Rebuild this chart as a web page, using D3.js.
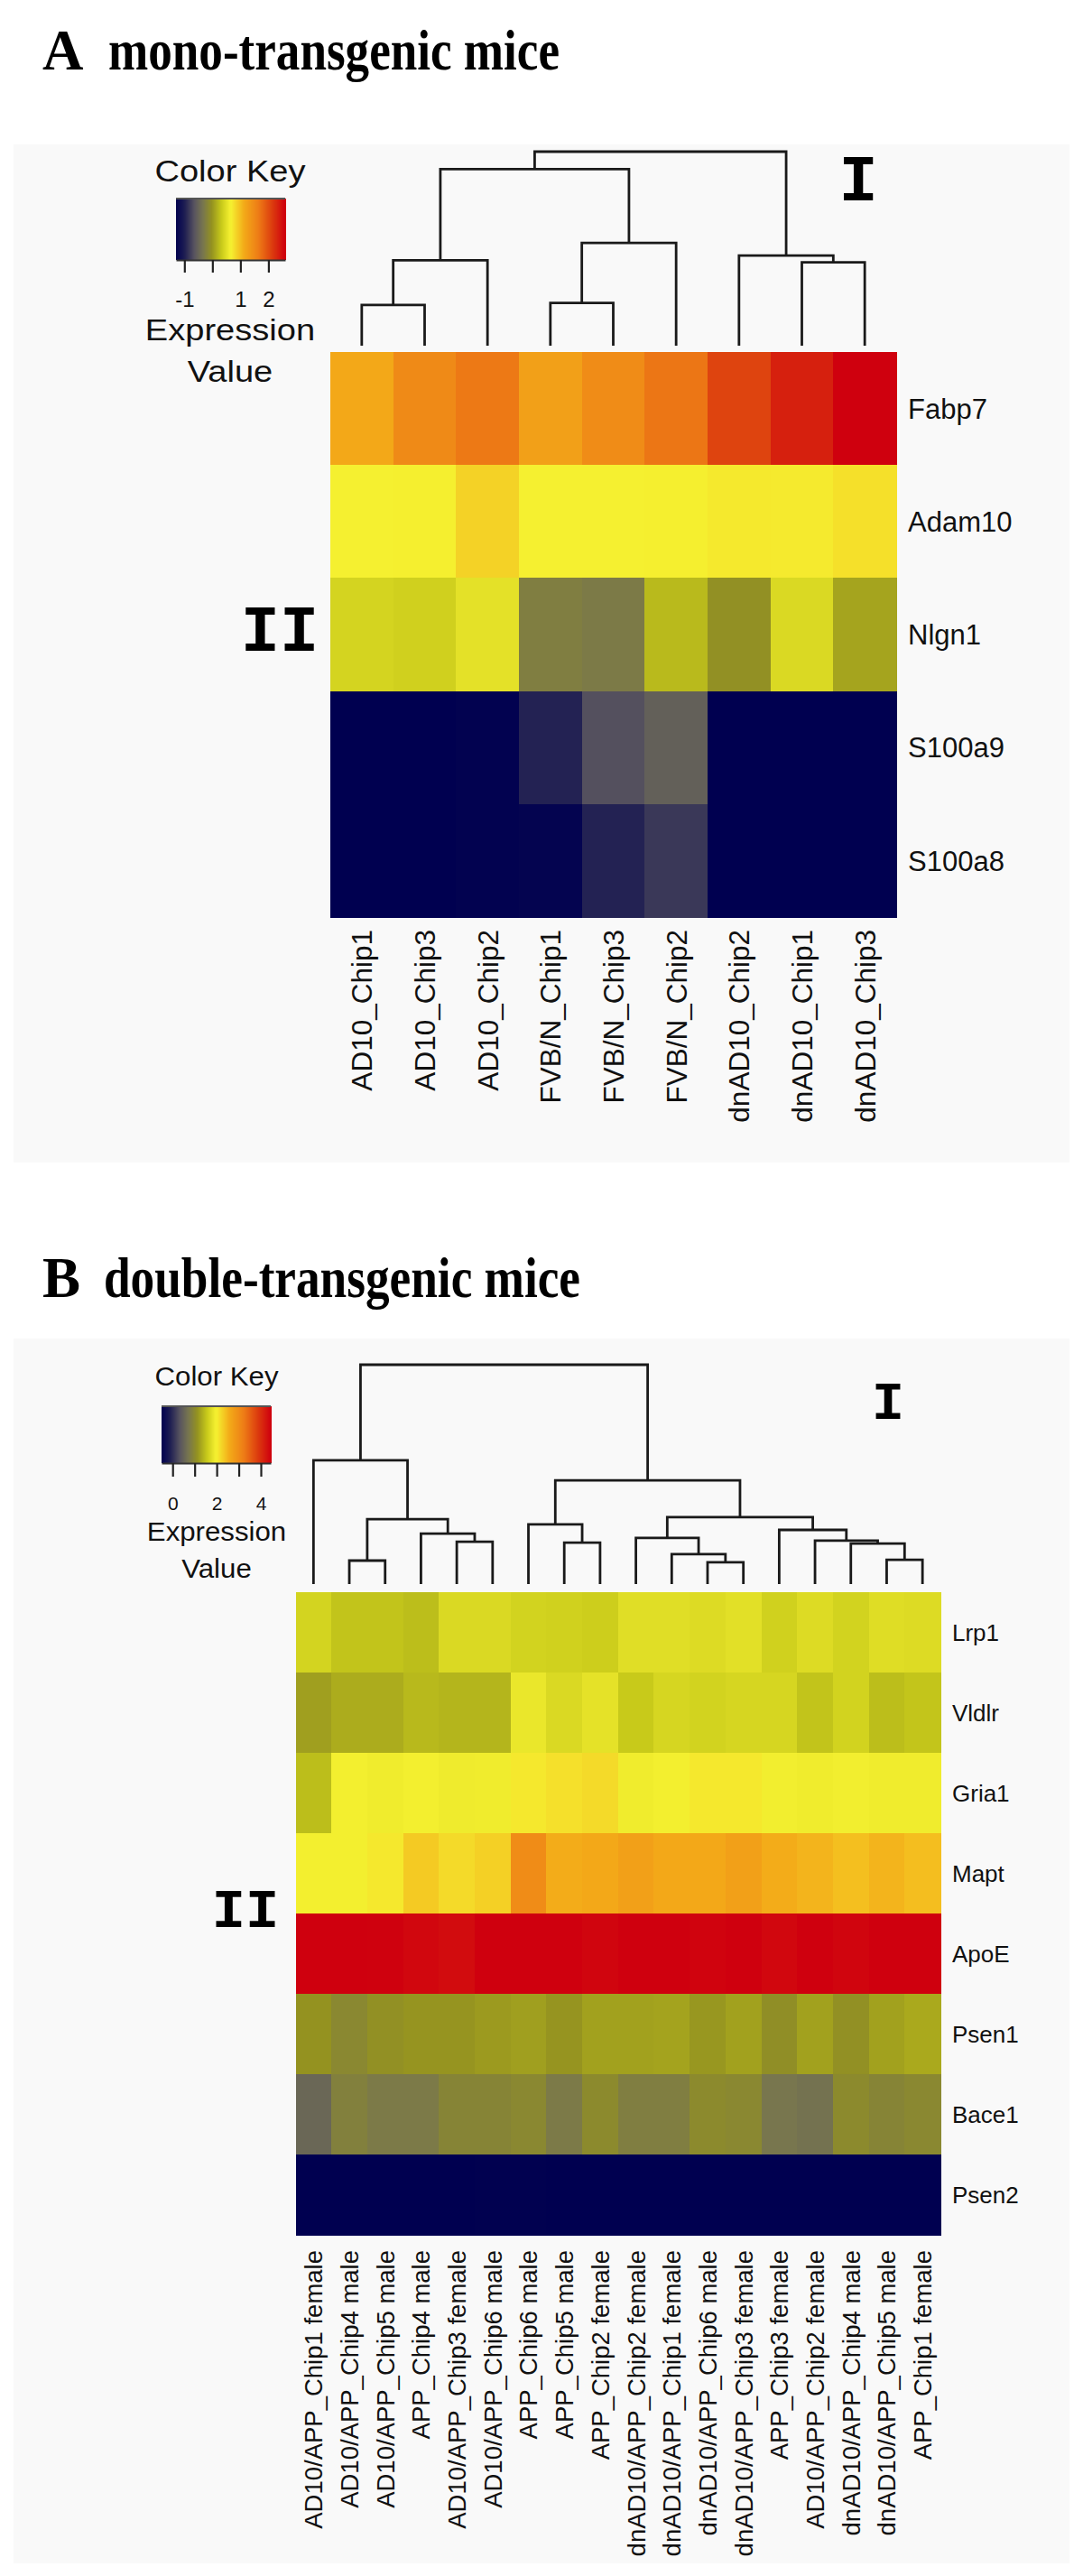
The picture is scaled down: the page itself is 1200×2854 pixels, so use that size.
<!DOCTYPE html>
<html>
<head>
<meta charset="utf-8">
<script src="https://cdn.jsdelivr.net/npm/d3@7"></script>
<style>
  body { margin: 0; background: #fff; }
  svg { display: block; }
  .lab { font-family: "Liberation Sans", Arial, sans-serif; fill: #111; }
</style>
</head>
<body>
<div id="chart"></div>
<script>
// ---- panel A : mono-transgenic mice ----
var colsA = ["AD10_Chip1", "AD10_Chip3", "AD10_Chip2", "FVB/N_Chip1", "FVB/N_Chip3",
             "FVB/N_Chip2", "dnAD10_Chip2", "dnAD10_Chip1", "dnAD10_Chip3"];
var rowsA = ["Fabp7", "Adam10", "Nlgn1", "S100a9", "S100a8"];
var fabp7A  = [1.14, 1.48, 1.66, 1.23, 1.46, 1.68, 2.07, 2.35, 2.60];
var adam10A = [0.65, 0.66, 0.85, 0.65, 0.65, 0.66, 0.70, 0.69, 0.76];
var nlgn1A  = [0.42, 0.39, 0.53, -0.24, -0.28, 0.24, -0.04, 0.46, 0.10];
var s100a9A = [-1.30, -1.30, -1.28, -0.96, -0.66, -0.53, -1.30, -1.30, -1.30];
var s100a8A = [-1.30, -1.30, -1.28, -1.26, -0.96, -0.82, -1.30, -1.30, -1.30];
// column dendrogram: [left, right, height], leaves are column indices
var treeA = [[[[0, 1, 0.21], 2, 0.44], [[3, 4, 0.22], 5, 0.53], 0.91], [6, [7, 8, 0.43], 0.465], 1.0];
var keyRangeA = [-1.3, 2.6];
var keyTicksA = [-1, 0, 1, 2];
var keyLabelsA = ["-1", "", "1", "2"];

// ---- panel B : double-transgenic mice ----
var colsB = ["AD10/APP_Chip1 female", "AD10/APP_Chip4 male", "AD10/APP_Chip5 male", "APP_Chip4 male",
             "AD10/APP_Chip3 female", "AD10/APP_Chip6 male", "APP_Chip6 male", "APP_Chip5 male",
             "APP_Chip2 female", "dnAD10/APP_Chip2 female", "dnAD10/APP_Chip1 female",
             "dnAD10/APP_Chip6 male", "dnAD10/APP_Chip3 female", "APP_Chip3 female",
             "AD10/APP_Chip2 female", "dnAD10/APP_Chip4 male", "dnAD10/APP_Chip5 male", "APP_Chip1 female"];
var rowsB = ["Lrp1", "Vldlr", "Gria1", "Mapt", "ApoE", "Psen1", "Bace1", "Psen2"];
var lrp1B  = [1.68, 1.53, 1.53, 1.48, 1.74, 1.74, 1.67, 1.65, 1.62, 1.79, 1.79, 1.76, 1.81, 1.65, 1.76, 1.67, 1.78, 1.76];
var vldlrB = [1.24, 1.34, 1.34, 1.44, 1.41, 1.41, 1.88, 1.74, 1.83, 1.58, 1.70, 1.67, 1.70, 1.70, 1.53, 1.67, 1.48, 1.54];
var gria1B = [1.48, 1.96, 1.93, 1.96, 1.92, 1.93, 2.04, 2.11, 2.16, 1.93, 1.96, 2.04, 2.04, 1.95, 1.93, 1.95, 1.93, 1.93];
var maptB  = [1.96, 1.96, 2.04, 2.30, 2.16, 2.25, 3.00, 2.55, 2.60, 2.71, 2.60, 2.60, 2.71, 2.55, 2.48, 2.39, 2.48, 2.40];
var apoeB  = [4.45, 4.45, 4.44, 4.38, 4.33, 4.45, 4.45, 4.45, 4.40, 4.45, 4.45, 4.42, 4.45, 4.38, 4.45, 4.40, 4.45, 4.45];
var psen1B = [1.13, 0.99, 1.10, 1.15, 1.15, 1.20, 1.24, 1.15, 1.25, 1.25, 1.27, 1.17, 1.25, 1.08, 1.25, 1.10, 1.25, 1.32];
var bace1B = [0.56, 0.88, 0.79, 0.79, 0.94, 0.94, 0.99, 0.79, 1.02, 0.85, 0.85, 1.02, 0.99, 0.74, 0.69, 1.02, 0.94, 0.99];
var psen2B = [-0.50, -0.50, -0.50, -0.50, -0.50, -0.49, -0.49, -0.50, -0.50, -0.50, -0.50, -0.50, -0.50, -0.50, -0.50, -0.50, -0.50, -0.50];
var treeB = [
  [0, [[1, 2, 0.107], [3, [4, 5, 0.193], 0.230], 0.296], 0.564],
  [[6, [7, 8, 0.189], 0.272],
   [[9, [10, [11, 12, 0.099], 0.136], 0.210], [13, [14, [15, [16, 17, 0.111], 0.185], 0.198], 0.247], 0.305],
   0.473],
  1.0];
var keyRangeB = [-0.5, 4.45];
var keyTicksB = [0, 1, 2, 3, 4];
var keyLabelsB = ["0", "", "2", "", "4"];

// colour ramp navy -> yellow -> red, stops given as fractions of the key range
var rampStops  = [0, 0.08, 0.17, 0.25, 0.33, 0.42, 0.5, 0.62, 0.75, 0.88, 1];
var rampColors = ["#000050", "#1e1e52", "#58545f", "#78764e", "#949220", "#c8ca1a",
                  "#f5f030", "#f3aa18", "#ee7d16", "#dc3c0e", "#cf000e"];

var svg = d3.select("#chart").append("svg")
    .attr("width", 1200)
    .attr("height", 2854);

function drawPanel(p) {
    var g = svg.append("g");
    var lo = p.keyRange[0], hi = p.keyRange[1];

    g.append("rect")
        .attr("x", 15).attr("y", p.bgTop)
        .attr("width", 1170).attr("height", p.bgBottom - p.bgTop)
        .attr("fill", "#f9f9f9");

    // panel title
    g.append("text")
        .attr("x", 47).attr("y", p.titleY)
        .attr("font-family", "'Liberation Serif', 'Times New Roman', serif")
        .attr("font-weight", "bold").attr("font-size", 63)
        .text(p.letter);
    g.append("text")
        .attr("x", p.titleX).attr("y", p.titleY)
        .attr("font-family", "'Liberation Serif', 'Times New Roman', serif")
        .attr("font-weight", "bold").attr("font-size", 63)
        .attr("textLength", p.titleLen).attr("lengthAdjust", "spacingAndGlyphs")
        .text(p.title);

    var x = d3.scaleBand().domain(p.cols).range(p.hmX);
    var y = d3.scaleBand().domain(p.rows).range(p.hmY);
    var color = d3.scaleLinear()
        .domain(rampStops.map(f => lo + f * (hi - lo)))
        .range(rampColors)
        .interpolate(d3.interpolateRgb)
        .clamp(true);

    // heatmap cells
    var cells = [];
    p.values.forEach(function(row, i) {
        row.forEach(function(v, j) {
            cells.push({r: p.rows[i], c: p.cols[j], v: v});
        });
    });
    g.append("g").attr("shape-rendering", "crispEdges")
        .selectAll("rect").data(cells).join("rect")
        .attr("x", d => x(d.c))
        .attr("y", d => y(d.r))
        .attr("width", x.bandwidth() + 0.6)
        .attr("height", y.bandwidth() + 0.6)
        .attr("fill", d => color(d.v));

    // row labels
    g.append("g").selectAll("text").data(p.rows).join("text")
        .attr("class", "lab")
        .attr("x", p.hmX[1] + p.rowPad)
        .attr("y", d => y(d) + y.bandwidth() / 2)
        .attr("dy", "0.36em")
        .attr("font-size", p.labSize)
        .text(d => d);

    // column labels
    g.append("g").selectAll("text").data(p.cols).join("text")
        .attr("class", "lab")
        .attr("transform", d => `translate(${x(d) + x.bandwidth() / 2},${p.colLabY}) rotate(-90)`)
        .attr("dy", "0.36em")
        .attr("text-anchor", "end")
        .attr("font-size", p.colLabSize)
        .text(d => d);

    // column dendrogram
    var h = d3.scaleLinear().domain([0, 1]).range(p.treeY);
    var segs = [];
    function walk(node) {
        if (typeof node === "number") {
            return {x: x(p.cols[node]) + x.bandwidth() / 2, h: 0};
        }
        var a = walk(node[0]), b = walk(node[1]);
        segs.push([[a.x, h(a.h)], [a.x, h(node[2])], [b.x, h(node[2])], [b.x, h(b.h)]]);
        return {x: (a.x + b.x) / 2, h: node[2]};
    }
    walk(p.tree);
    g.append("g").selectAll("path").data(segs).join("path")
        .attr("d", d3.line())
        .attr("fill", "none")
        .attr("stroke", "#1a1a1a")
        .attr("stroke-width", 2.8);

    // colour key
    var kx = d3.scaleLinear().domain(p.keyRange).range(p.keyX);
    var n = 120, step = (hi - lo) / n;
    g.append("g").attr("shape-rendering", "crispEdges")
        .selectAll("rect").data(d3.range(n).map(i => lo + i * step)).join("rect")
        .attr("x", d => kx(d))
        .attr("y", p.keyY[0])
        .attr("width", kx(lo + step) - kx(lo) + 0.6)
        .attr("height", p.keyY[1] - p.keyY[0])
        .attr("fill", d => color(d + step / 2));
    g.append("line")
        .attr("x1", p.keyX[0]).attr("x2", p.keyX[1])
        .attr("y1", p.keyY[0]).attr("y2", p.keyY[0])
        .attr("stroke", "#555").attr("stroke-width", 2);

    var ax = g.append("g")
        .attr("transform", `translate(0,${p.keyY[1]})`)
        .call(d3.axisBottom(kx)
            .tickValues(p.keyTicks)
            .tickSize(p.keyTick)
            .tickSizeOuter(0)
            .tickPadding(p.keyPad)
            .tickFormat((d, i) => p.keyLabels[i]));
    ax.select(".domain").attr("stroke", "#333").attr("stroke-width", 2);
    ax.selectAll(".tick line").attr("stroke", "#222").attr("stroke-width", 2.2);
    ax.selectAll("text")
        .attr("font-family", "'Liberation Sans', Arial, sans-serif")
        .attr("font-size", p.keyFont)
        .attr("fill", "#111");

    [["Color Key", p.keyTextY[0]], ["Expression", p.keyTextY[1]], ["Value", p.keyTextY[2]]]
        .forEach(function(t) {
            g.append("text")
                .attr("class", "lab")
                .attr("transform", `translate(${p.keyCx},${t[1]}) scale(${p.keySx},1)`)
                .attr("text-anchor", "middle")
                .attr("font-size", p.keyTextSize)
                .text(t[0]);
        });

    // cluster markers I / II
    p.marks.forEach(function(m) {
        g.append("text")
            .attr("x", m.x).attr("y", m.y)
            .attr("text-anchor", "middle")
            .attr("font-family", "'Liberation Mono', 'Courier New', monospace")
            .attr("font-weight", "bold")
            .attr("font-size", m.size)
            .text(m.t);
    });
}

drawPanel({
    letter: "A", title: "mono-transgenic mice", titleX: 120, titleY: 77, titleLen: 500,
    bgTop: 160, bgBottom: 1288,
    cols: colsA, rows: rowsA,
    values: [fabp7A, adam10A, nlgn1A, s100a9A, s100a8A],
    tree: treeA, treeY: [383, 168],
    hmX: [366, 993], hmY: [390, 1016],
    rowPad: 13, colLabY: 1030, labSize: 31, colLabSize: 31.5,
    keyRange: keyRangeA, keyTicks: keyTicksA, keyLabels: keyLabelsA,
    keyX: [195, 316], keyY: [220, 288], keyTick: 14, keyPad: 21, keyFont: 24,
    keyCx: 255, keyTextY: [201, 377, 423], keyTextSize: 34, keySx: 1.12,
    marks: [{t: "I", x: 951, y: 222, size: 72}, {t: "II", x: 310, y: 721, size: 72}]
});

drawPanel({
    letter: "B", title: "double-transgenic mice", titleX: 115, titleY: 1437, titleLen: 528,
    bgTop: 1483, bgBottom: 2840,
    cols: colsB, rows: rowsB,
    values: [lrp1B, vldlrB, gria1B, maptB, apoeB, psen1B, bace1B, psen2B],
    tree: treeB, treeY: [1755, 1512],
    hmX: [327.5, 1042], hmY: [1764, 2476],
    rowPad: 13, colLabY: 2493, labSize: 26, colLabSize: 27.5,
    keyRange: keyRangeB, keyTicks: keyTicksB, keyLabels: keyLabelsB,
    keyX: [179, 300], keyY: [1558, 1621], keyTick: 15, keyPad: 22, keyFont: 21,
    keyCx: 240, keyTextY: [1535, 1707, 1748], keyTextSize: 30, keySx: 1.04,
    marks: [{t: "I", x: 984, y: 1572, size: 60}, {t: "II", x: 272, y: 2135, size: 62}]
});
</script>
</body>
</html>
